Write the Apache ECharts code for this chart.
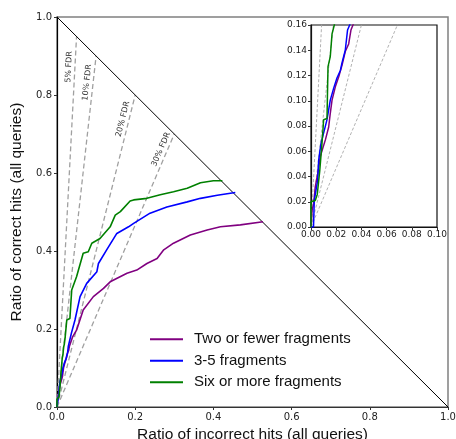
<!DOCTYPE html>
<html>
<head>
<meta charset="utf-8">
<script src="https://cdn.jsdelivr.net/npm/echarts@6/dist/echarts.min.js"></script>
<style>
  html, body { margin: 0; background: #fff; }
  #chart { width: 456px; height: 439px; }
</style>
</head>
<body>
<div id="chart"></div>
<script>
// [incorrect ratio, correct ratio]
const twoOrFewer = [
  [0, 0], [0.0008, 0], [0.0008, 0.013], [0.0021, 0.0185], [0.0034, 0.032], [0.0053, 0.042],
  [0.0074, 0.056], [0.0114, 0.069], [0.014, 0.079], [0.0153, 0.09], [0.0167, 0.1005],
  [0.0193, 0.111], [0.022, 0.119], [0.0246, 0.128], [0.0272, 0.139], [0.0299, 0.145],
  [0.0317, 0.156], [0.0333, 0.16], [0.04, 0.18], [0.05, 0.197], [0.067, 0.249],
  [0.093, 0.283], [0.119, 0.304], [0.136, 0.321], [0.179, 0.343], [0.204, 0.351],
  [0.23, 0.368], [0.256, 0.381], [0.273, 0.403], [0.298, 0.42], [0.341, 0.441],
  [0.384, 0.454], [0.418, 0.462], [0.469, 0.467], [0.527, 0.475]
];
const threeToFive = [
  [0, 0], [0.002, 0], [0.0026, 0.021], [0.0053, 0.037], [0.0061, 0.053], [0.0079, 0.066],
  [0.0127, 0.085], [0.0153, 0.1005], [0.018, 0.11], [0.0206, 0.118], [0.0233, 0.124],
  [0.0246, 0.13], [0.0272, 0.14], [0.029, 0.156], [0.0307, 0.16], [0.037, 0.19],
  [0.046, 0.223], [0.059, 0.283], [0.076, 0.317], [0.102, 0.347], [0.106, 0.368],
  [0.127, 0.403], [0.153, 0.445], [0.183, 0.462], [0.196, 0.471], [0.238, 0.497],
  [0.281, 0.513], [0.333, 0.526], [0.367, 0.535], [0.41, 0.543], [0.456, 0.55]
];
const sixOrMore = [
  [0, 0], [0, 0.02], [0.0034, 0.021], [0.005, 0.026], [0.0069, 0.044], [0.0087, 0.066],
  [0.0095, 0.077], [0.01, 0.085], [0.0127, 0.086], [0.0135, 0.127], [0.0153, 0.135],
  [0.0167, 0.153], [0.0185, 0.16], [0.021, 0.18], [0.025, 0.223], [0.033, 0.227],
  [0.0376, 0.3], [0.05, 0.334], [0.067, 0.394], [0.08, 0.398], [0.089, 0.42],
  [0.11, 0.432], [0.136, 0.462], [0.149, 0.492], [0.162, 0.501], [0.187, 0.528],
  [0.196, 0.531], [0.23, 0.535], [0.264, 0.544], [0.298, 0.552], [0.333, 0.561],
  [0.367, 0.575], [0.4, 0.58], [0.423, 0.58]
];

const seriesNames = ['Two or fewer fragments', '3-5 fragments', 'Six or more fragments'];
const seriesColors = ['#800080', '#0000ff', '#008000'];
const seriesData = [twoOrFewer, threeToFive, sixOrMore];

const fdrLevels = [0.05, 0.1, 0.2, 0.3];
const fdrLabels = ['5% FDR', '10% FDR', '20% FDR', '30% FDR'];
const diagonal = [[0, 1], [1, 0]];

// how far back from the line end each FDR label sits (px)
const fdrLabelBack = [15, 9, 8, 1];

const FONT = 'DejaVu Sans';
const TITLE_FONT = 'Liberation Sans';

function fdrLine(f) {
  return [[0, 0], [f, 1 - f]];
}

const series = [];

// main panel: FDR guides with labels
fdrLevels.forEach((f, i) => {
  series.push({
    type: 'line',
    xAxisIndex: 0,
    yAxisIndex: 0,
    data: fdrLine(f),
    symbol: 'none',
    silent: true,
    lineStyle: { color: '#a0a0a0', width: 1.3, type: [5, 3] },
    markLine: {
      silent: true,
      symbol: ['none', 'none'],
      lineStyle: { color: 'rgba(0,0,0,0)', width: 1, type: 'solid' },
      label: {
        show: true,
        position: 'insideEndTop',
        formatter: fdrLabels[i],
        fontFamily: FONT,
        fontSize: 8,
        color: '#333',
        distance: [fdrLabelBack[i], 2],
      },
      data: [[{ coord: fdrLine(f)[0] }, { coord: fdrLine(f)[1] }]],
    },
  });
});

series.push({
  type: 'line',
  xAxisIndex: 0,
  yAxisIndex: 0,
  data: diagonal,
  symbol: 'none',
  silent: true,
  lineStyle: { color: '#000', width: 1 },
});

seriesData.forEach((data, i) => {
  series.push({
    name: seriesNames[i],
    type: 'line',
    xAxisIndex: 0,
    yAxisIndex: 0,
    data,
    symbol: 'none',
    color: seriesColors[i],
    lineStyle: { width: 1.6 },
  });
});

// inset
fdrLevels.forEach((f) => {
  series.push({
    type: 'line',
    xAxisIndex: 1,
    yAxisIndex: 1,
    data: fdrLine(f),
    symbol: 'none',
    silent: true,
    clip: true,
    lineStyle: { color: '#a8a8a8', width: 0.9, type: [3, 2] },
  });
});

seriesData.forEach((data, i) => {
  series.push({
    name: seriesNames[i],
    type: 'line',
    xAxisIndex: 1,
    yAxisIndex: 1,
    data,
    symbol: 'none',
    clip: true,
    color: seriesColors[i],
    lineStyle: { width: 1.5 },
  });
});

function axisBase(min, max, interval, digits, fontSize, margin, lineColor) {
  return {
    type: 'value',
    min,
    max,
    interval,
    splitLine: { show: false },
    axisLine: { show: true, onZero: false, lineStyle: { color: lineColor, width: 1.2 } },
    axisTick: { show: true, length: 3, lineStyle: { color: '#333' } },
    axisLabel: {
      fontFamily: FONT,
      fontSize,
      color: '#222',
      margin,
      formatter: (v) => v.toFixed(digits),
    },
  };
}

const chart = echarts.init(document.getElementById('chart'));
chart.setOption({
  animation: false,
  backgroundColor: '#fff',
  grid: [
    { left: 57, top: 17, width: 391, height: 390, show: true, borderColor: '#808080', borderWidth: 1.5, outerBoundsMode: 'none' },
    { left: 311, top: 25, width: 126, height: 202, show: true, borderColor: '#111', borderWidth: 1.2, outerBoundsMode: 'none' },
  ],
  xAxis: [
    Object.assign(axisBase(0, 1, 0.2, 1, 10, 5, '#333'), {
      gridIndex: 0,
      name: 'Ratio of incorrect hits (all queries)',
      nameLocation: 'middle',
      nameGap: 16,
      nameTextStyle: { fontFamily: TITLE_FONT, fontSize: 15.5, color: '#111' },
    }),
    Object.assign(axisBase(0, 0.1, 0.02, 2, 9, 3, '#111'), { gridIndex: 1 }),
  ],
  yAxis: [
    Object.assign(axisBase(0, 1, 0.2, 1, 10, 5, '#000'), {
      gridIndex: 0,
      name: 'Ratio of correct hits (all queries)',
      nameLocation: 'middle',
      nameGap: 29,
      nameTextStyle: { fontFamily: TITLE_FONT, fontSize: 15.5, color: '#111' },
    }),
    Object.assign(axisBase(0, 0.16, 0.02, 2, 9, 4, '#111'), { gridIndex: 1 }),
  ],
  legend: {
    data: seriesNames,
    orient: 'vertical',
    left: 150,
    top: 331,
    padding: 0,
    icon: 'rect',
    itemWidth: 33,
    itemHeight: 2,
    itemGap: 5,
    textStyle: { fontFamily: TITLE_FONT, fontSize: 15, color: '#111', lineHeight: 16.5, padding: [0, 0, 0, 6] },
    selectedMode: false,
  },
  series,
});
</script>
</body>
</html>
